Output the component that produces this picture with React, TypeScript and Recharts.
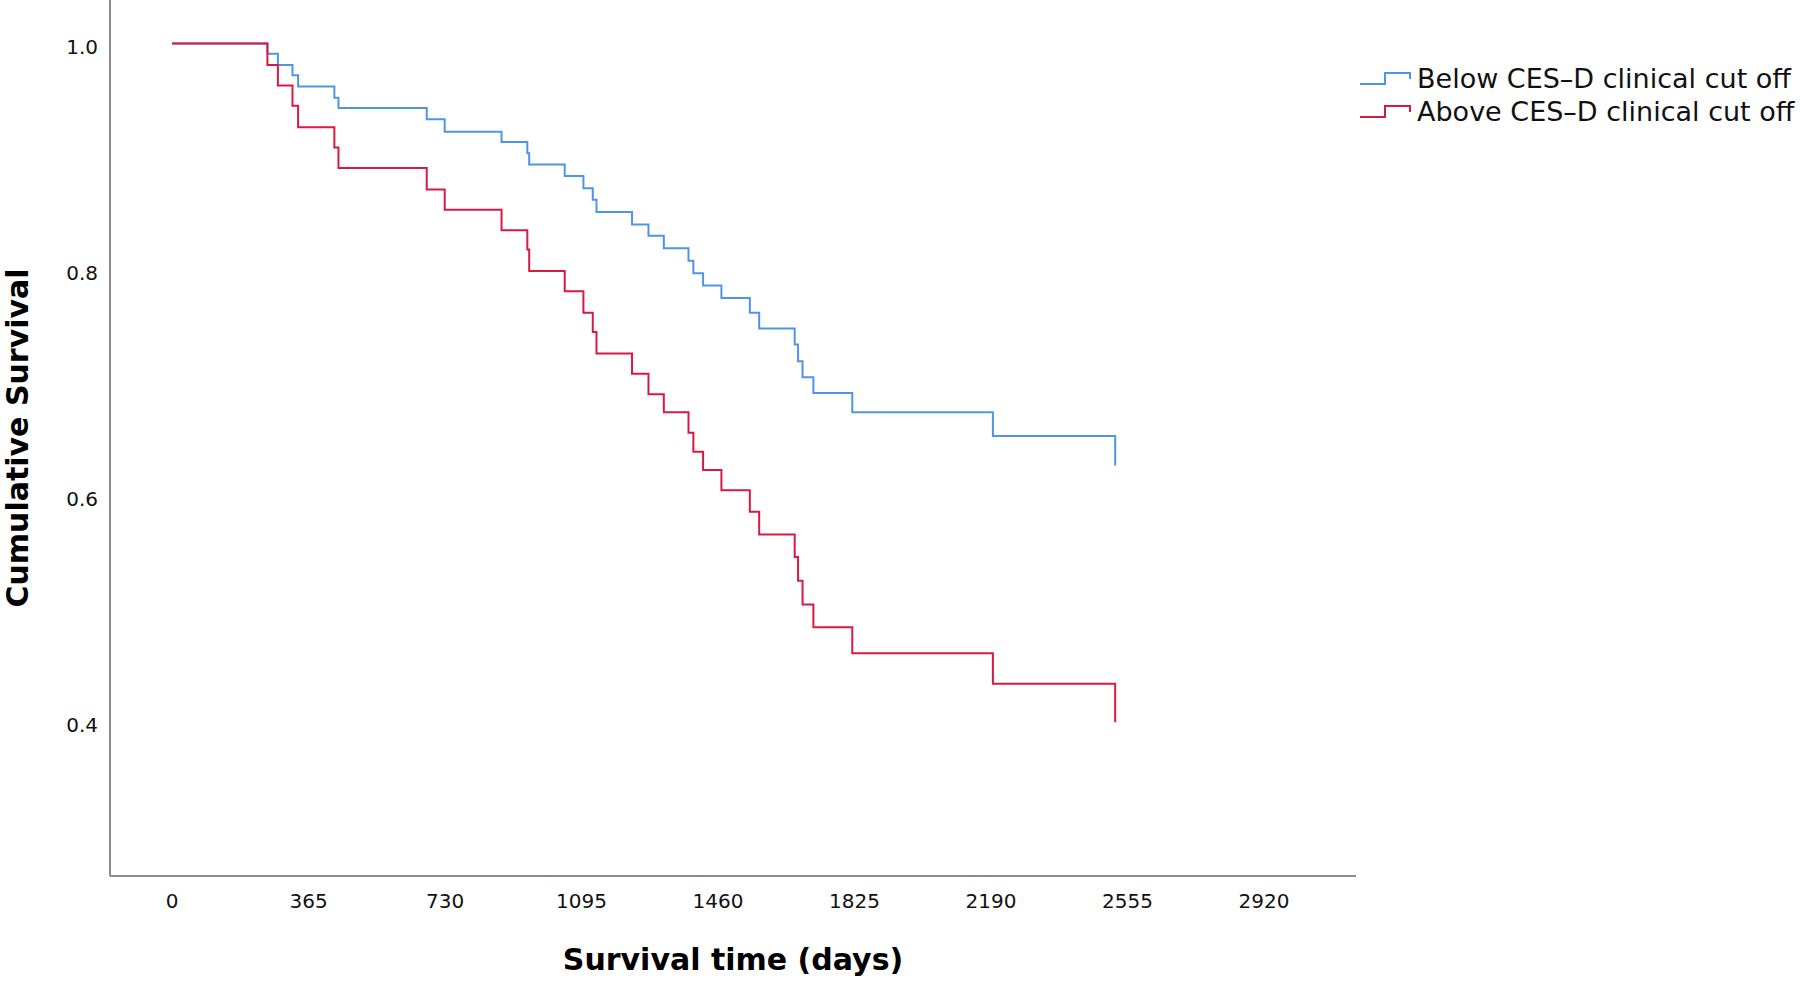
import { LineChart, Line, XAxis, YAxis, Legend } from 'recharts';

// event times (days) shared by both groups
const timesDays = [
  0, 255, 283, 322, 337, 434, 445, 681, 729, 881, 950, 955, 1050, 1100, 1125, 1135,
  1230, 1274, 1315, 1381, 1394, 1420, 1469, 1545, 1570, 1665, 1674, 1686, 1715, 1819, 2195, 2522,
];
const belowCutoff = [
  1.0, 0.991, 0.981, 0.972, 0.962, 0.952, 0.943, 0.933, 0.922, 0.913, 0.903, 0.893, 0.883, 0.872, 0.862, 0.851,
  0.84, 0.83, 0.819, 0.808, 0.797, 0.786, 0.775, 0.762, 0.748, 0.734, 0.719, 0.705, 0.691, 0.674, 0.653, 0.627,
];
const aboveCutoff = [
  1.0, 0.981, 0.963, 0.945, 0.926, 0.908, 0.89, 0.871, 0.853, 0.835, 0.818, 0.799, 0.781, 0.762, 0.745, 0.726,
  0.708, 0.69, 0.674, 0.656, 0.639, 0.623, 0.605, 0.586, 0.566, 0.546, 0.525, 0.504, 0.484, 0.461, 0.434, 0.4,
];
const xTicks = [0, 365, 730, 1095, 1460, 1825, 2190, 2555, 2920];
const yTicks = [0.4, 0.6, 0.8, 1.0];

const BLUE = '#5094e6';
const RED = '#d71a44';
const FONT = '"DejaVu Sans", sans-serif';

const rows = timesDays.map((t, i) => ({ t, below: belowCutoff[i], above: aboveCutoff[i] }));

const series = [
  { key: 'below', name: 'Below CES\u2013D clinical cut off', color: BLUE },
  { key: 'above', name: 'Above CES\u2013D clinical cut off', color: RED },
];

function StepLegend() {
  return (
    <div style={{ fontFamily: FONT, fontSize: 27, color: '#111' }}>
      {series.map((s) => (
        <div key={s.key} style={{ display: 'flex', alignItems: 'center', height: 33 }}>
          <svg width={54} height={16} style={{ marginRight: 5 }}>
            <polyline
              points="2,13 27,13 27,2 52,2 52,8"
              fill="none"
              stroke={s.color}
              strokeWidth={2}
            />
          </svg>
          <span>{s.name}</span>
        </div>
      ))}
    </div>
  );
}

function YTick(props: any) {
  const { x, y, payload } = props;
  return (
    <text x={x} y={y + 3} textAnchor="end" dominantBaseline="central"
      style={{ fontFamily: FONT, fontSize: 20, fill: '#111' }}>
      {payload.value.toFixed(1)}
    </text>
  );
}

function YTitle(props: any) {
  const vb = props.viewBox;
  const cx = vb.x + 17;
  const cy = vb.y + vb.height / 2;
  return (
    <text
      x={cx}
      y={cy}
      transform={`rotate(-90 ${cx} ${cy})`}
      textAnchor="middle"
      dominantBaseline="central"
      style={{ fontFamily: FONT, fontSize: 30, fontWeight: 'bold', fill: '#000' }}
    >
      Cumulative Survival
    </text>
  );
}

function XTitle(props: any) {
  const vb = props.viewBox;
  return (
    <text
      x={vb.x + vb.width / 2}
      y={vb.y + 83}
      textAnchor="middle"
      dominantBaseline="central"
      style={{ fontFamily: FONT, fontSize: 30, fontWeight: 'bold', fill: '#000' }}
    >
      Survival time (days)
    </text>
  );
}

export default function App() {
  return (
    <div style={{ position: 'absolute', left: 0, top: 0, background: '#fff' }}>
      <LineChart width={1800} height={981} data={rows} margin={{ top: 0, right: 444, left: 0, bottom: 0 }}>
        <XAxis
          type="number"
          dataKey="t"
          domain={[-166, 3166]}
          ticks={xTicks}
          allowDataOverflow
          height={105}
          tickSize={0}
          tickMargin={18}
          tickLine={false}
          axisLine={{ stroke: '#8c8c8c', strokeWidth: 2 }}
          tick={{ fontSize: 20, fill: '#111', fontFamily: FONT }}
          label={{ content: <XTitle /> }}
        />
        <YAxis
          type="number"
          domain={[0.264, 1.0385]}
          ticks={yTicks}
          allowDataOverflow
          width={110}
          tickSize={0}
          tickMargin={12}
          tickLine={false}
          axisLine={{ stroke: '#8c8c8c', strokeWidth: 2 }}
          tick={<YTick />}
          label={{ content: <YTitle /> }}
        />
        <Legend
          layout="horizontal"
          verticalAlign="middle"
          align="center"
          content={<StepLegend />}
          wrapperStyle={{ position: 'absolute', left: 1358, top: 62, width: 440 }}
        />
        {series.map((s) => (
          <Line
            key={s.key}
            type="stepAfter"
            dataKey={s.key}
            name={s.name}
            stroke={s.color}
            strokeWidth={2}
            dot={false}
            activeDot={false}
            isAnimationActive={false}
          />
        ))}
      </LineChart>
    </div>
  );
}
